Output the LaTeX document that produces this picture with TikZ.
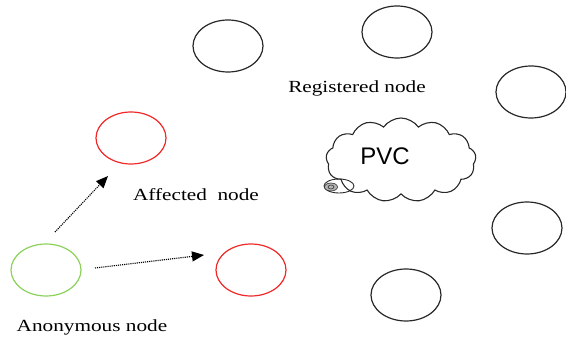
\documentclass[tikz,border=0pt]{standalone}
\usepackage{fontspec}
\setmainfont{Liberation Serif}
\newfontfamily\labelfont[FakeStretch=1.25]{Liberation Serif}
\newfontfamily\cloudfont{Liberation Sans}
\definecolor{peerred}{RGB}{240,40,40}
\definecolor{peergreen}{RGB}{140,210,90}
\definecolor{peergray}{RGB}{40,40,40}
\usetikzlibrary{shapes,arrows.meta,positioning}

\begin{document}
\begin{tikzpicture}[x=1pt, y=-1pt,
    peer/.style={ellipse, draw=peergray, line width=1.2pt, minimum width=70pt, minimum height=52pt, inner sep=0pt},
    tag/.style={font=\labelfont\fontsize{17}{20}\selectfont},
    link/.style={densely dotted, line width=1.1pt, -{Triangle[length=12pt, width=10pt]}}
]
    \useasboundingbox (0,0) rectangle (566,339);

    % Registered nodes
    \node[peer] (r1) at (228,46) {};
    \node[peer] (r2) at (397,32) {};
    \node[peer] (r3) at (531,92) {};
    \node[peer] (r4) at (527,228) {};
    \node[peer] (r5) at (406,295) {};

    % Affected nodes
    \node[peer, draw=peerred] (a1) at (131,138) {};
    \node[peer, draw=peerred] (a2) at (251,270) {};

    % Anonymous node
    \node[peer, draw=peergreen] (anon) at (46,270) {};

    % PVC cloud
    \node[cloud, draw=peergray, line width=1.1pt, cloud puffs=13, cloud puff arc=110, aspect=1.8,
          minimum width=150pt, minimum height=84pt, inner sep=0pt] (pvc) at (401,160) {};
    \node[font=\cloudfont\fontsize{24}{28}\selectfont] (pvctext) at (385,156) {PVC};
    \node[ellipse, draw=peergray, line width=0.9pt, minimum width=30pt, minimum height=14pt, inner sep=0pt] (tail) at (339,186) {};
    \node[ellipse, draw=peergray, fill=gray!60, line width=0.6pt, minimum width=13pt, minimum height=8pt, inner sep=0pt] (tail2) at (331,187) {};
    \node[ellipse, draw=peergray, line width=0.5pt, minimum width=6pt, minimum height=4pt, inner sep=0pt] (tail3) at (331,187) {};

    % Labels
    \node[tag] (regtext) at (357,88) {Registered node};
    \node[tag] (afftext) at (196,195) {Affected~~node};
    \node[tag] (anontext) at (92,327) {Anonymous node};

    % Arrows
    \coordinate (s1) at (55,232);
    \coordinate (s2) at (95,268);
    \draw[link] (s1) -- (108,176);
    \draw[link] (s2) -- (204,255);
\end{tikzpicture}
\end{document}
